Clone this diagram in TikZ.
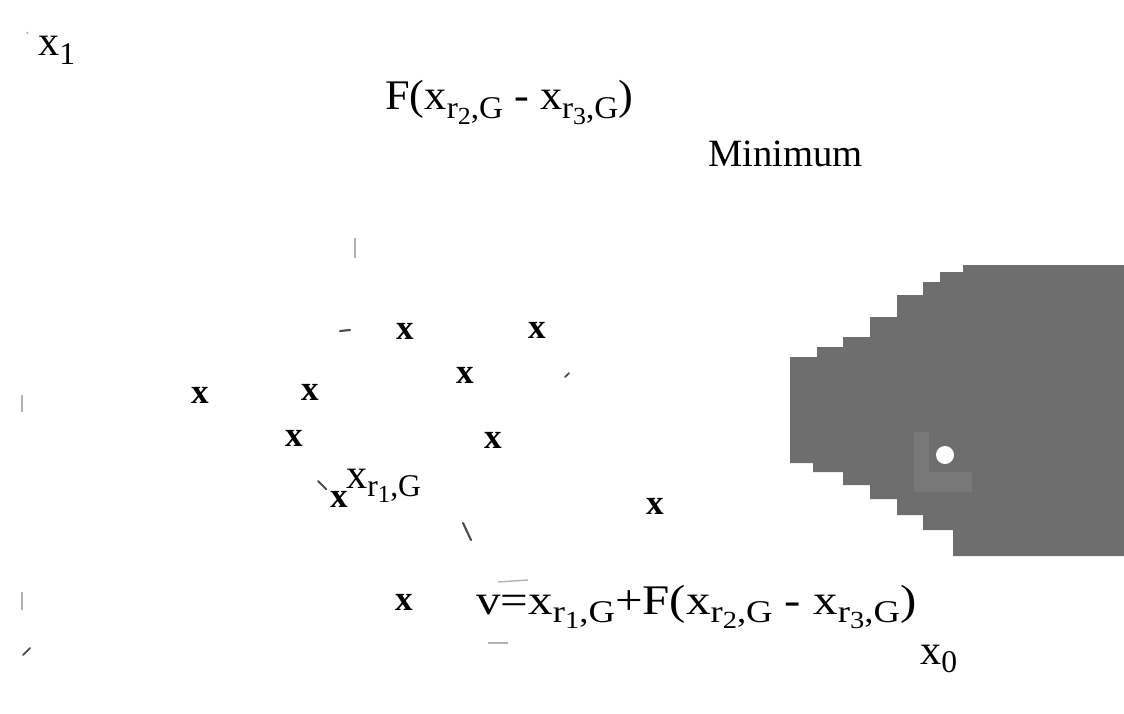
\documentclass[tikz,border=0pt]{standalone}
\usepackage{fontspec}
\usepackage{graphicx}
\setmainfont{Liberation Serif}
\newcommand{\sbs}[1]{\raisebox{-0.45ex}{\fontsize{18}{20}\selectfont #1}}
\newcommand{\ssbs}[1]{\raisebox{-0.4ex}{\fontsize{14}{16}\selectfont #1}}
\begin{document}
\begin{tikzpicture}[x=0.02cm,y=-0.02cm,
  lbl/.style={inner sep=0pt,anchor=base west,font=\fontsize{24}{28}\selectfont},
  xmark/.style={inner sep=0pt,anchor=center,font=\fontsize{20}{24}\selectfont\bfseries},
  tick/.style={line width=1.2pt,black!70,line cap=round},
  faint/.style={line width=0.8pt,black!30}]
\useasboundingbox (0,0) rectangle (1124,713);
\definecolor{regiongray}{HTML}{6E6E6E}
\definecolor{patchgray}{HTML}{787878}
% grey region
\fill[regiongray] (1124,265) -- (963,265) -- (963,272) -- (940,272) -- (940,282) -- (923,282) -- (923,295)
  -- (897,295) -- (897,317) -- (870,317) -- (870,337) -- (843,337) -- (843,347) -- (817,347) -- (817,357)
  -- (790,357) -- (790,463) -- (813,463) -- (813,472) -- (843,472) -- (843,485) -- (870,485) -- (870,499)
  -- (897,499) -- (897,515) -- (923,515) -- (923,530) -- (953,530) -- (953,556) -- (1124,556) -- cycle;
\fill[patchgray] (914,432) rectangle (972,492);
\fill[regiongray] (929,432) rectangle (972,472);
\fill[white] (945,455) circle (9);
% labels
\node[lbl] (x1) at (38,56) {x\sbs{1}};
\node[lbl] (Fd) at (385,110) {\scalebox{1.05}[1]{F(x\sbs{r\ssbs{2},G} - x\sbs{r\ssbs{3},G})}};
\node[lbl,font=\fontsize{22}{26}\selectfont] (min) at (708,166) {Minimum};
\node[lbl] (xr1) at (346,488) {x\sbs{r\ssbs{1},G}};
\node[lbl] (v) at (476,614) {\scalebox{1.16}[1]{v=x\sbs{r\ssbs{1},G}+F(x\sbs{r\ssbs{2},G} - x\sbs{r\ssbs{3},G})}};
\node[lbl] (x0) at (920,664) {x\sbs{0}};
% population members
\node[xmark] (p1) at (405,331) {x};
\node[xmark] (p2) at (537,330) {x};
\node[xmark] (p3) at (465,375) {x};
\node[xmark] (p4) at (200,395) {x};
\node[xmark] (p5) at (310,392) {x};
\node[xmark] (p6) at (294,438) {x};
\node[xmark] (p7) at (493,440) {x};
\node[xmark] (p8) at (339,499) {x};
\node[xmark] (p9) at (655,506) {x};
\node[xmark] (p10) at (404,602) {x};
% residual marks
\draw[faint] (355,238) -- (355,258);
\draw[faint] (22,395) -- (22,412);
\draw[faint] (22,592) -- (22,610);
\draw[tick] (340,331) -- (350,330);
\draw[tick] (318,481) -- (326,489);
\draw[tick] (463,523) -- (471,540);
\draw[tick,line width=1pt] (565,377) -- (569,373);
\draw[tick,line width=1pt] (23,655) -- (30,648);
\draw[faint] (27,32) -- (28,34);
\draw[faint] (498,582) -- (528,580);
\draw[faint] (488,643) -- (508,643);
\end{tikzpicture}
\end{document}
